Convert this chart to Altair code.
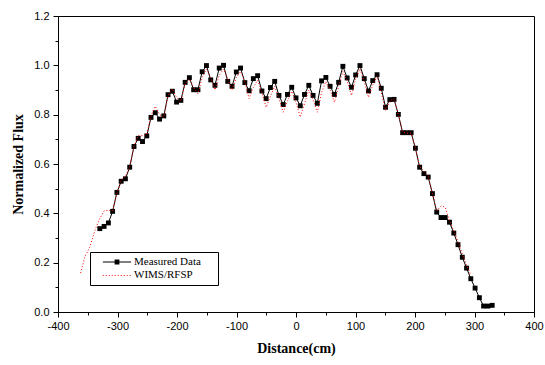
import altair as alt
import pandas as pd

# Measured data (x in cm, normalized flux)
mx = [-329.7, -322.5, -315.3, -308.2, -301.0, -293.8, -286.7, -279.5, -272.3, -265.2,
      -258.0, -250.8, -243.7, -236.5, -229.3, -222.2, -215.0, -207.8, -200.7, -193.5,
      -186.3, -179.2, -172.0, -164.8, -157.7, -150.5, -143.3, -136.2, -129.0, -121.8,
      -114.7, -107.5, -100.3, -93.2, -86.0, -78.8, -71.7, -64.5, -57.3, -50.2,
      -43.0, -35.8, -28.7, -21.5, -14.3, -7.2, 0.0, 7.2, 14.3, 21.5,
      28.7, 35.8, 43.0, 50.2, 57.3, 64.5, 71.7, 78.8, 86.0, 93.2,
      100.3, 107.5, 114.7, 121.8, 129.0, 136.2, 143.3, 150.5, 157.7, 164.8,
      172.0, 179.2, 186.3, 193.5, 200.7, 207.8, 215.0, 222.2, 229.3, 236.5,
      243.7, 250.8, 258.0, 265.2, 272.3, 279.5, 286.7, 293.8, 301.0, 308.2,
      315.3, 322.5, 329.7]
my = [0.338, 0.347, 0.361, 0.408, 0.485, 0.530, 0.540, 0.587, 0.671, 0.704,
      0.691, 0.714, 0.789, 0.808, 0.782, 0.795, 0.881, 0.895, 0.851, 0.858,
      0.931, 0.950, 0.901, 0.901, 0.974, 0.999, 0.941, 0.919, 0.989, 1.000,
      0.935, 0.915, 0.973, 0.989, 0.930, 0.897, 0.946, 0.958, 0.896, 0.865,
      0.910, 0.935, 0.878, 0.841, 0.882, 0.911, 0.868, 0.836, 0.882, 0.919,
      0.878, 0.846, 0.937, 0.951, 0.915, 0.882, 0.931, 0.996, 0.949, 0.911,
      0.961, 0.999, 0.946, 0.896, 0.938, 0.962, 0.907, 0.830, 0.861, 0.862,
      0.801, 0.727, 0.727, 0.727, 0.664, 0.587, 0.561, 0.547, 0.480, 0.405,
      0.383, 0.383, 0.364, 0.320, 0.273, 0.222, 0.178, 0.135, 0.097, 0.058,
      0.024, 0.024, 0.027]

# WIMS/RFSP calculation
wx = [-362.0, -355.0, -346.5, -338.0] + mx[:88]
wy = [0.158, 0.223, 0.263, 0.331,
      0.379, 0.410, 0.412, 0.410, 0.480, 0.535, 0.550, 0.590, 0.670, 0.715,
      0.715, 0.720, 0.795, 0.834, 0.800, 0.790, 0.875, 0.905, 0.870, 0.855,
      0.925, 0.945, 0.910, 0.885, 0.950, 0.985, 0.950, 0.900, 0.960, 0.985,
      0.945, 0.900, 0.950, 0.975, 0.935, 0.865, 0.910, 0.940, 0.890, 0.830,
      0.875, 0.915, 0.865, 0.810, 0.855, 0.895, 0.850, 0.790, 0.845, 0.900,
      0.860, 0.810, 0.890, 0.935, 0.900, 0.850, 0.915, 0.975, 0.935, 0.878,
      0.945, 0.985, 0.935, 0.870, 0.920, 0.955, 0.890, 0.817, 0.855, 0.865,
      0.800, 0.730, 0.725, 0.725, 0.665, 0.590, 0.570, 0.550, 0.480, 0.410,
      0.430, 0.425, 0.370, 0.330, 0.285, 0.235, 0.190, 0.150]

series_names = ["Measured Data", "WIMS/RFSP"]
x_ticks = [-400, -350, -300, -250, -200, -150, -100, -50, 0, 50, 100, 150, 200, 250, 300, 350, 400]
y_ticks = [0.0, 0.1, 0.2, 0.3, 0.4, 0.5, 0.6, 0.7, 0.8, 0.9, 1.0, 1.1, 1.2]

meas = pd.DataFrame({"x": mx, "y": my, "series": series_names[0]})
wims = pd.DataFrame({"x": wx, "y": wy, "series": series_names[1]})
both = pd.concat([meas, wims], ignore_index=True)

xscale = alt.Scale(domain=[-400, 400], nice=False, zero=False)
yscale = alt.Scale(domain=[0, 1.2], nice=False)

xaxis = alt.Axis(
    values=x_ticks, title="Distance(cm)",
    labelExpr="datum.value % 100 === 0 ? toString(datum.value) : ''",
    tickSize={"condition": {"test": "datum.value % 100 === 0", "value": 5}, "value": 3},
    labelFlush=False, labelOverlap=False, labelPadding=3, titlePadding=10,
)
yaxis = alt.Axis(
    values=y_ticks, title="Normalized Flux",
    labelExpr="round(datum.value * 10) % 2 === 0 ? format(datum.value, '.1f') : ''",
    tickSize={"condition": {"test": "round(datum.value * 10) % 2 === 0", "value": 5}, "value": 3},
    labelFlush=False, labelOverlap=False, labelPadding=4, titlePadding=8,
)

X = alt.X("x:Q", scale=xscale, axis=xaxis)
Y = alt.Y("y:Q", scale=yscale, axis=yaxis)

meas_line = alt.Chart(meas).mark_line(color="black", strokeWidth=1).encode(x=X, y=Y)
meas_pts = alt.Chart(meas).mark_point(shape="square", filled=True, color="black", size=24, opacity=1).encode(x=X, y=Y)
wims_line = alt.Chart(wims).mark_line(color="red", strokeWidth=1, strokeDash=[1, 2]).encode(x=X, y=Y)

# legend symbols (custom paths; 1 unit = 6 px with symbolSize 144)
p_meas = "M-2.35,-0.08H2.35V0.08H-2.35Z M-0.4,-0.4H0.4V0.4H-0.4Z"
dots = []
for i in range(10):
    c = -2.3 + i * 0.5
    dots.append(f"M{c - 0.08:.2f},-0.08H{c + 0.08:.2f}V0.08H{c - 0.08:.2f}Z")
p_wims = " ".join(dots)

leg_def = alt.Legend(
    title="n", titleOrient="right", titlePadding=7, titleFontSize=11,
    titleFont="Liberation Serif", titleFontWeight="normal", titleColor="white",
    orient="none", legendX=32, legendY=236,
    strokeColor="black", fillColor="white", padding=4,
    symbolSize=144, symbolOffset=17, labelOffset=11, symbolStrokeWidth=0,
    labelFont="Liberation Serif", labelFontSize=11, labelColor="black",
    rowPadding=2.4,
)
legend_layer = alt.Chart(both).mark_point(filled=True, opacity=1).encode(
    x=X, y=Y,
    fill=alt.Fill("series:N", scale=alt.Scale(domain=series_names, range=["black", "red"]), legend=leg_def),
    shape=alt.Shape("series:N", scale=alt.Scale(domain=series_names, range=[p_meas, p_wims]), legend=leg_def),
).transform_filter("datum.y > 5")

chart = alt.layer(meas_line, meas_pts, wims_line, legend_layer).properties(
    width=476, height=296,
    autosize=alt.AutoSizeParams(type="none"),
    padding={"left": 58, "top": 16, "right": 11, "bottom": 53},
    background="white",
).configure_view(stroke="black", strokeWidth=1).configure_axis(
    grid=False, domainColor="black", tickColor="black", labelColor="black",
    labelFont="Liberation Sans", labelFontSize=11,
    titleFont="Liberation Serif", titleFontWeight="bold", titleFontSize=14, titleColor="black",
    domainWidth=1, tickWidth=1,
)

chart.save("out.html", embed_options={"renderer": "svg", "actions": False})
